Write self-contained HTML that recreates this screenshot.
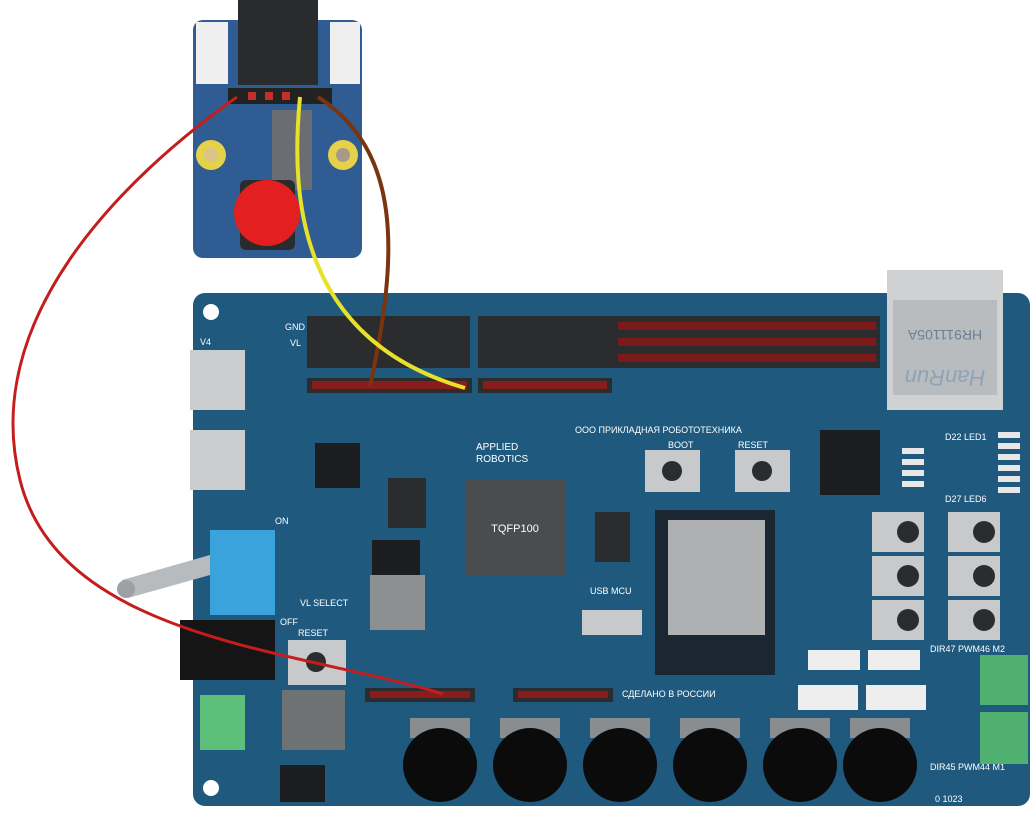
<!DOCTYPE html>
<html><head><meta charset="utf-8"><style>
html,body{margin:0;padding:0;background:#fff;width:1032px;height:816px;overflow:hidden}
svg{display:block}
text{font-family:"Liberation Sans","Noto Sans CJK SC",sans-serif;fill:#fff}
</style></head><body>
<svg width="1032" height="816" viewBox="0 0 1032 816">
<rect x="193" y="293" width="837" height="513" rx="12" fill="#1f5a7e"/>
<circle cx="211" cy="312" r="8" fill="#fff"/>
<circle cx="211" cy="788" r="8" fill="#fff"/>
<rect x="887" y="270" width="116" height="140" fill="#cfd1d3"/>
<rect x="893" y="300" width="104" height="95" fill="#b9bcbf"/>
<text x="945" y="330" transform="rotate(180 945 330)" font-size="14" text-anchor="middle" style="fill:#6a7f95">HR911105A</text>
<text x="945" y="370" transform="rotate(180 945 370)" font-size="22" font-style="italic" text-anchor="middle" style="fill:#8fa3b8">HanRun</text>
<rect x="307" y="316" width="163" height="52" fill="#2b2c2e"/>
<rect x="478" y="316" width="134" height="52" fill="#2b2c2e"/>
<rect x="612" y="316" width="268" height="52" fill="#2b2c2e"/>
<g fill="#7a1a1a">
<rect x="618" y="322" width="258" height="8"/><rect x="618" y="338" width="258" height="8"/><rect x="618" y="354" width="258" height="8"/>
</g>
<rect x="307" y="378" width="165" height="15" fill="#2b2c2e"/>
<rect x="478" y="378" width="134" height="15" fill="#2b2c2e"/>
<rect x="612" y="378" width="268" height="15" fill="#1f5a7e"/>
<g fill="#8a1c1c">
<rect x="312" y="381" width="155" height="8"/><rect x="483" y="381" width="124" height="8"/>
</g>
<text x="285" y="330" font-size="9">GND</text><text x="290" y="346" font-size="9">VL</text>
<text x="200" y="345" font-size="9">V4</text>
<text x="575" y="433" font-size="9">ООО ПРИКЛАДНАЯ РОБОТОТЕХНИКА</text>
<text x="476" y="450" font-size="10">APPLIED</text><text x="476" y="462" font-size="10">ROBOTICS</text>
<text x="622" y="697" font-size="9">СДЕЛАНО В РОССИИ</text>
<text x="668" y="448" font-size="9">BOOT</text><text x="738" y="448" font-size="9">RESET</text>
<text x="590" y="594" font-size="9">USB MCU</text>
<text x="300" y="606" font-size="9">VL SELECT</text><text x="298" y="636" font-size="9">RESET</text>
<text x="275" y="524" font-size="9">ON</text><text x="280" y="625" font-size="9">OFF</text>
<text x="945" y="440" font-size="9">D22 LED1</text><text x="945" y="502" font-size="9">D27 LED6</text>
<g fill="#e8e8e8"><rect x="998" y="432" width="22" height="6"/><rect x="998" y="443" width="22" height="6"/><rect x="998" y="454" width="22" height="6"/><rect x="998" y="465" width="22" height="6"/><rect x="998" y="476" width="22" height="6"/><rect x="998" y="487" width="22" height="6"/>
<rect x="902" y="448" width="22" height="6"/><rect x="902" y="459" width="22" height="6"/><rect x="902" y="470" width="22" height="6"/><rect x="902" y="481" width="22" height="6"/></g>
<text x="930" y="652" font-size="9">DIR47 PWM46 M2</text><text x="930" y="770" font-size="9">DIR45 PWM44 M1</text>
<text x="935" y="802" font-size="9">0 1023</text>
<rect x="190" y="350" width="55" height="60" fill="#cacccd"/>
<rect x="190" y="430" width="55" height="60" fill="#cacccd"/>
<rect x="315" y="443" width="45" height="45" fill="#1b1d20"/>
<rect x="465" y="480" width="100" height="96" fill="#4a4c4e"/>
<text x="515" y="532" font-size="11" text-anchor="middle">TQFP100</text>
<rect x="655" y="510" width="120" height="165" fill="#1a2733"/>
<rect x="668" y="520" width="97" height="115" fill="#aeb0b2"/>
<rect x="820" y="430" width="60" height="65" fill="#1b1d20"/>
<rect x="388" y="478" width="38" height="50" fill="#2b2c2e"/>
<rect x="595" y="512" width="35" height="50" fill="#2b2c2e"/>
<g fill="#c8c9ca"><rect x="645" y="450" width="55" height="42"/><rect x="735" y="450" width="55" height="42"/>
<rect x="872" y="512" width="52" height="40"/><rect x="948" y="512" width="52" height="40"/>
<rect x="872" y="556" width="52" height="40"/><rect x="948" y="556" width="52" height="40"/>
<rect x="872" y="600" width="52" height="40"/><rect x="948" y="600" width="52" height="40"/>
<rect x="288" y="640" width="58" height="45"/><rect x="582" y="610" width="60" height="25"/></g>
<g fill="#2b2c2e"><circle cx="672" cy="471" r="10"/><circle cx="762" cy="471" r="10"/>
<circle cx="908" cy="532" r="11"/><circle cx="984" cy="532" r="11"/><circle cx="908" cy="576" r="11"/><circle cx="984" cy="576" r="11"/><circle cx="908" cy="620" r="11"/><circle cx="984" cy="620" r="11"/><circle cx="316" cy="662" r="10"/></g>
<path d="M122 580 L210 555 L210 575 L128 598 Z" fill="#b8bbbd"/>
<circle cx="126" cy="589" r="9" fill="#9ea1a3"/>
<rect x="210" y="530" width="65" height="85" fill="#3ba3dc"/>
<rect x="180" y="620" width="95" height="60" fill="#151515"/>
<rect x="370" y="575" width="55" height="55" fill="#8d9093"/>
<rect x="282" y="690" width="63" height="60" fill="#6f7275"/>
<rect x="372" y="540" width="48" height="35" fill="#1b1d20"/>
<rect x="280" y="765" width="45" height="37" fill="#1b1d20"/>
<rect x="200" y="695" width="45" height="55" fill="#5cbf7a"/>
<rect x="980" y="655" width="48" height="50" fill="#4fb070"/>
<rect x="980" y="712" width="48" height="52" fill="#4fb070"/>
<g fill="#eeeeee"><rect x="808" y="650" width="52" height="20"/><rect x="868" y="650" width="52" height="20"/><rect x="798" y="685" width="60" height="25"/><rect x="866" y="685" width="60" height="25"/></g>
<rect x="365" y="688" width="110" height="14" fill="#2b2c2e"/>
<rect x="513" y="688" width="100" height="14" fill="#2b2c2e"/>
<g fill="#8a1c1c"><rect x="370" y="691" width="100" height="7"/><rect x="518" y="691" width="90" height="7"/></g>
<g>
<rect x="410" y="718" width="60" height="20" fill="#8a8d90"/><circle cx="440" cy="765" r="37" fill="#0b0b0b"/>
<rect x="500" y="718" width="60" height="20" fill="#8a8d90"/><circle cx="530" cy="765" r="37" fill="#0b0b0b"/>
<rect x="590" y="718" width="60" height="20" fill="#8a8d90"/><circle cx="620" cy="765" r="37" fill="#0b0b0b"/>
<rect x="680" y="718" width="60" height="20" fill="#8a8d90"/><circle cx="710" cy="765" r="37" fill="#0b0b0b"/>
<rect x="770" y="718" width="60" height="20" fill="#8a8d90"/><circle cx="800" cy="765" r="37" fill="#0b0b0b"/>
<rect x="850" y="718" width="60" height="20" fill="#8a8d90"/><circle cx="880" cy="765" r="37" fill="#0b0b0b"/>
</g>
<rect x="193" y="20" width="169" height="238" rx="10" fill="#2f5c92"/>
<rect x="196" y="22" width="32" height="62" fill="#efefef"/>
<rect x="330" y="22" width="30" height="62" fill="#efefef"/>
<rect x="238" y="0" width="80" height="85" fill="#2a2b2d"/>
<rect x="228" y="88" width="104" height="16" fill="#222"/>
<g fill="#c0302c"><rect x="248" y="92" width="8" height="8"/><rect x="265" y="92" width="8" height="8"/><rect x="282" y="92" width="8" height="8"/></g>
<rect x="272" y="110" width="40" height="80" fill="#6a6e72"/>
<circle cx="211" cy="155" r="15" fill="#e6d24a"/><circle cx="211" cy="155" r="7" fill="#d9c48a"/>
<circle cx="343" cy="155" r="15" fill="#e6d24a"/><circle cx="343" cy="155" r="7" fill="#a89a8a"/>
<rect x="240" y="180" width="55" height="70" rx="6" fill="#2a2b2d"/>
<circle cx="267" cy="213" r="33" fill="#e3201f"/>
<path d="M237 97 C 120 180, -20 320, 20 480 C 60 640, 300 650, 443 694" fill="none" stroke="#c41d1d" stroke-width="3"/>
<path d="M318 97 C 400 150, 400 250, 370 386" fill="none" stroke="#7a3510" stroke-width="4"/>
<path d="M300 97 C 290 200, 300 340, 465 388" fill="none" stroke="#e8e12a" stroke-width="4"/>
</svg>
</body></html>
